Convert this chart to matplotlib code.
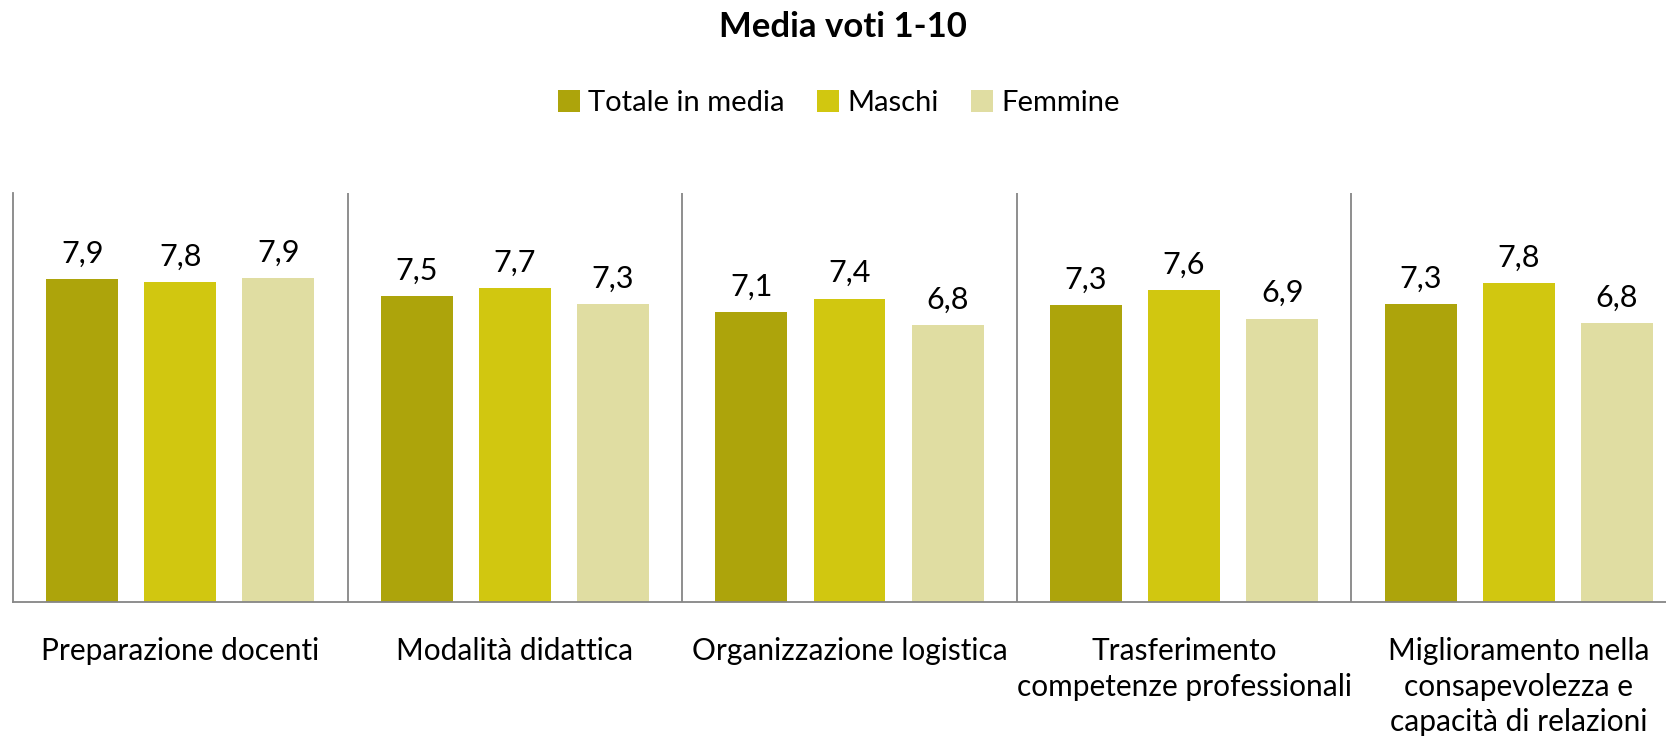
import numpy as np
import matplotlib.pyplot as plt

categories = ['Preparazione docenti', 'Modalità didattica', 'Organizzazione logistica',
              'Trasferimento\ncompetenze professionali',
              'Miglioramento nella\nconsapevolezza e\ncapacità di relazioni']
series_names = ['Totale in media', 'Maschi', 'Femmine']
totale = [7.89, 7.47, 7.08, 7.26, 7.29]
maschi = [7.83, 7.68, 7.42, 7.63, 7.80]
femmine = [7.91, 7.29, 6.77, 6.93, 6.82]
colors = ['#ADA40B', '#D1C710', '#E0DDA2']

plt.rcParams['font.family'] = ['Lato', 'DejaVu Sans']

fig = plt.figure(figsize=(16.66, 7.44), dpi=100)
ax = fig.add_axes([13/1666, 1 - 602/744, (1686 - 13)/1666, (602 - 193)/744])

x = np.arange(len(categories))
width = 0.215
offset = 0.293
for i, (vals, name) in enumerate(zip([totale, maschi, femmine], series_names)):
    pos = x + (i - 1) * offset
    bars = ax.bar(pos, vals, width, color=colors[i], label=name)
    for b, v in zip(bars, vals):
        ax.text(b.get_x() + b.get_width()/2, v + 0.28, f'{v:.1f}'.replace('.', ','),
                ha='center', va='bottom', fontsize=22)

# separators between groups
for s in x[:-1] + 0.5:
    ax.axvline(s, color='#868686', lw=1.3)

ax.set_xlim(-0.5, len(categories) - 0.5)
ax.set_ylim(0, 10)
ax.set_yticks([])
ax.set_xticks(x)
ax.set_xticklabels(categories, fontsize=21.5, linespacing=1.34)
ax.tick_params(axis='x', length=0, pad=25)
for side in ['top', 'right']:
    ax.spines[side].set_visible(False)
for side in ['left', 'bottom']:
    ax.spines[side].set_color('#868686')
    ax.spines[side].set_linewidth(1.3)

fig.text(0.506, 1 - 27/744, 'Media voti 1-10', ha='center', va='center',
         fontsize=25, fontweight='bold')
fig.legend(loc='center', bbox_to_anchor=(839/1666, 1 - 103/744), ncol=3, frameon=False,
           fontsize=21, handlelength=0.75, handleheight=0.75, handletextpad=0.3,
           columnspacing=1.1)

fig.savefig('out.png', dpi=100)
